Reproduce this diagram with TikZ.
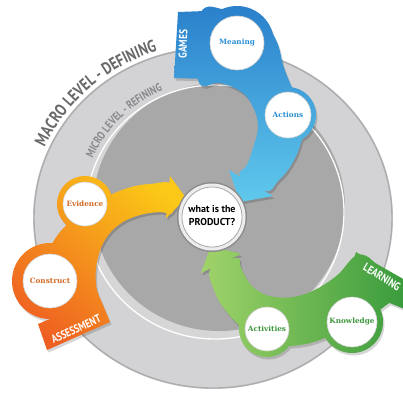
\documentclass[tikz,border=0pt]{standalone}
\usepackage{fontspec}
\setmainfont{DejaVu Serif}
\newfontfamily\slabfont{DejaVu Serif}
\newfontfamily\condfont[FakeStretch=0.8]{PT Sans}
\newfontfamily\ptsans{PT Sans}
\usetikzlibrary{decorations.text}
\definecolor{ringlight}{HTML}{D3D3D5}
\definecolor{ringedge}{HTML}{ADADAF}
\definecolor{facegray}{HTML}{A8A8A8}
\definecolor{wallgray}{HTML}{D6D6D6}
\definecolor{blueA}{HTML}{2A80CB}
\definecolor{blueM}{HTML}{2DB3E8}
\definecolor{blueB}{HTML}{62CCEE}
\definecolor{orA}{HTML}{EE5F22}
\definecolor{orM}{HTML}{F3921E}
\definecolor{orB}{HTML}{FBC817}
\definecolor{grA}{HTML}{379A3B}
\definecolor{grM}{HTML}{5BB247}
\definecolor{grB}{HTML}{A2D46A}
\definecolor{bluetxt}{HTML}{2B8FD3}
\definecolor{ortxt}{HTML}{D26A26}
\definecolor{grtxt}{HTML}{3E963D}
\definecolor{macrogray}{HTML}{68686A}
\definecolor{microgray}{HTML}{88888A}
\newcommand\blueshade{\shade[top color=blueA, middle color=blueM, bottom color=blueB] (165,-5) rectangle (320,-210);}
\newcommand\orangeshade{\shade[bottom color=orA, middle color=orM, top color=orB, shading angle=-40] (10,-170) rectangle (195,-360);}
\newcommand\greenshade{\shade[left color=grB, middle color=grM, right color=grA] (198,-240) rectangle (410,-360);}
\newcommand\shadepart[2]{\begin{scope}\clip #2; #1\end{scope}}
% shapes
\newcommand\BTab{(178,-12) -- (205,-11) -- (205,-79) -- (174,-78) -- cycle}
\newcommand\BBand{plot[smooth cycle, tension=0.7] coordinates {(200,-14) (228,-10) (258,-16) (276,-40) (284,-68) (295,-95) (304,-122) (300,-146) (290,-167) (278,-181) (266,-191) (240,-176) (247,-165) (253,-148) (258,-126) (252,-105) (240,-91) (220,-83) (198,-80)}}
\newcommand\BBlobA{(237,-43) circle[radius=37pt]}
\newcommand\BBlobB{(288,-115) circle[radius=28pt]}
\newcommand\BHead{(229,-170) -- (273,-196) -- (240,-202) -- cycle}
\newcommand\OTab{(38,-324) -- (47,-350) -- (110,-322) -- (100,-298) -- cycle}
\newcommand\OBand{plot[smooth cycle, tension=0.7] coordinates {(100,-310) (96,-285) (97,-262) (105,-240) (120,-224) (140,-215) (160,-212) (173,-212) (173,-185) (150,-184) (128,-188) (105,-198) (80,-215) (60,-232) (48,-255) (46,-282) (55,-306) (75,-322)}}
\newcommand\OBlobA{(85,-204) circle[radius=28pt]}
\newcommand\OBlobB{(50,-281) circle[radius=38pt]}
\newcommand\OHead{(170,-176) -- (186,-198) -- (166,-218) -- cycle}
\newcommand\GTab{(356,-252) -- (412,-284) -- (412,-312) -- (345,-285) -- cycle}
\newcommand\GBand{plot[smooth cycle, tension=0.7] coordinates {(358,-255) (335,-277) (305,-294) (275,-297) (253,-287) (241,-268) (237,-258) (211,-268) (214,-290) (226,-311) (245,-330) (270,-344) (300,-345) (330,-336) (360,-322) (385,-306) (398,-292) (378,-266)}}
\newcommand\GBlobA{(352,-322) circle[radius=31pt]}
\newcommand\GBlobB{(267,-329) circle[radius=28pt]}
\newcommand\GHead{(201,-273) -- (211,-246) -- (241,-254) -- cycle}
\begin{document}
\begin{tikzpicture}[x=1pt,y=1pt,
  lbl/.style={font=\slabfont\bfseries\fontsize{7.3}{8}\selectfont, inner sep=0pt},
  tabtxt/.style={font=\condfont\bfseries\fontsize{11.5}{12}\selectfont, text=white, inner sep=0pt},
  whitec/.style={fill=white, draw=black!18, line width=0.6pt},
  shad/.style={fill=black, shift={(1.5,-2.5)}}]
\useasboundingbox (0,0) rectangle (403,-392);
\fill[white] (0,0) rectangle (403,-392);
% rings
\fill[ringlight] (213,-218) ellipse[x radius=180pt, y radius=171pt];
\draw[ringedge, line width=1.4pt] (213,-218) ellipse[x radius=179pt, y radius=170pt];
\fill[wallgray] (215,-212) ellipse[x radius=129pt, y radius=127pt];
\fill[facegray] (219,-207) ellipse[x radius=126pt, y radius=124pt];
\draw[white, line width=1.3pt] (215,-212) ellipse[x radius=129pt, y radius=127pt];
% ring texts
\path[decorate, decoration={text along path, text align=center, text color=macrogray,
  text={|\condfont\bfseries\fontsize{17}{17}\selectfont|MACRO LEVEL - DEFINING}}]
  (213,-218) ++(163:184pt and 175pt) arc[start angle=163, end angle=101, x radius=184pt, y radius=175pt];
\path[decorate, decoration={text along path, text align=center, text color=microgray,
  text={|\condfont\bfseries\fontsize{11.5}{12}\selectfont|MICRO LEVEL - REFINING}}]
  (215,-212) ++(163:134pt and 132pt) arc[start angle=163, end angle=106, x radius=134pt, y radius=132pt];
% shadows
\begin{scope}[transparency group, opacity=0.16]
  \path[shad] \BTab; \path[shad] \BBand; \path[shad] \BBlobA; \path[shad] \BBlobB; \path[shad] \BHead;
  \path[shad] \OTab; \path[shad] \OBand; \path[shad] \OBlobA; \path[shad] \OBlobB; \path[shad] \OHead;
  \path[shad] \GTab; \path[shad] \GBand; \path[shad] \GBlobA; \path[shad] \GBlobB; \path[shad] \GHead;
\end{scope}
% blue band
\shadepart{\blueshade}{\BTab}
\shadepart{\blueshade}{\BBand}
\shadepart{\blueshade}{\BBlobA}
\shadepart{\blueshade}{\BBlobB}
\shadepart{\blueshade}{\BHead}
% orange band
\shadepart{\orangeshade}{\OTab}
\shadepart{\orangeshade}{\OBand}
\shadepart{\orangeshade}{\OBlobA}
\shadepart{\orangeshade}{\OBlobB}
\shadepart{\orangeshade}{\OHead}
% green band
\shadepart{\greenshade}{\GTab}
\shadepart{\greenshade}{\GBand}
\shadepart{\greenshade}{\GBlobA}
\shadepart{\greenshade}{\GBlobB}
\shadepart{\greenshade}{\GHead}
% white circles
\path[whitec] (237,-43) circle[radius=27pt];
\path[whitec] (288,-115) circle[radius=23pt];
\path[whitec] (85,-204) circle[radius=22pt];
\path[whitec] (50,-281) circle[radius=27pt];
\path[whitec] (267,-329) circle[radius=22pt];
\path[whitec] (352,-322) circle[radius=25pt];
\node[lbl, text=bluetxt] (meaning) at (237,-43) {Meaning};
\node[lbl, text=bluetxt] (actions) at (288,-115) {Actions};
\node[lbl, text=ortxt] (evidence) at (85,-204) {Evidence};
\node[lbl, text=ortxt] (construct) at (50,-281) {Construct};
\node[lbl, text=grtxt] (activities) at (267,-329) {Activities};
\node[lbl, text=grtxt] (knowledge) at (352,-322) {Knowledge};
% tab texts
\node[tabtxt, rotate=88] (games) at (183,-44) {GAMES};
\node[tabtxt, rotate=25] (assess) at (76,-329) {ASSESSMENT};
\node[tabtxt, rotate=-31] (learn) at (382,-277) {LEARNING};
% centre
\fill[black!45] (212,-217) circle[radius=35pt];
\fill[black!7] (212,-217) circle[radius=33.5pt];
\path[fill=white, draw=black!35, line width=0.8pt] (212,-217) circle[radius=30pt];
\node[align=center, font=\ptsans\bfseries\fontsize{10}{13}\selectfont, inner sep=0pt] (product) at (212,-216) {what is the\\PRODUCT?};
\end{tikzpicture}
\end{document}
